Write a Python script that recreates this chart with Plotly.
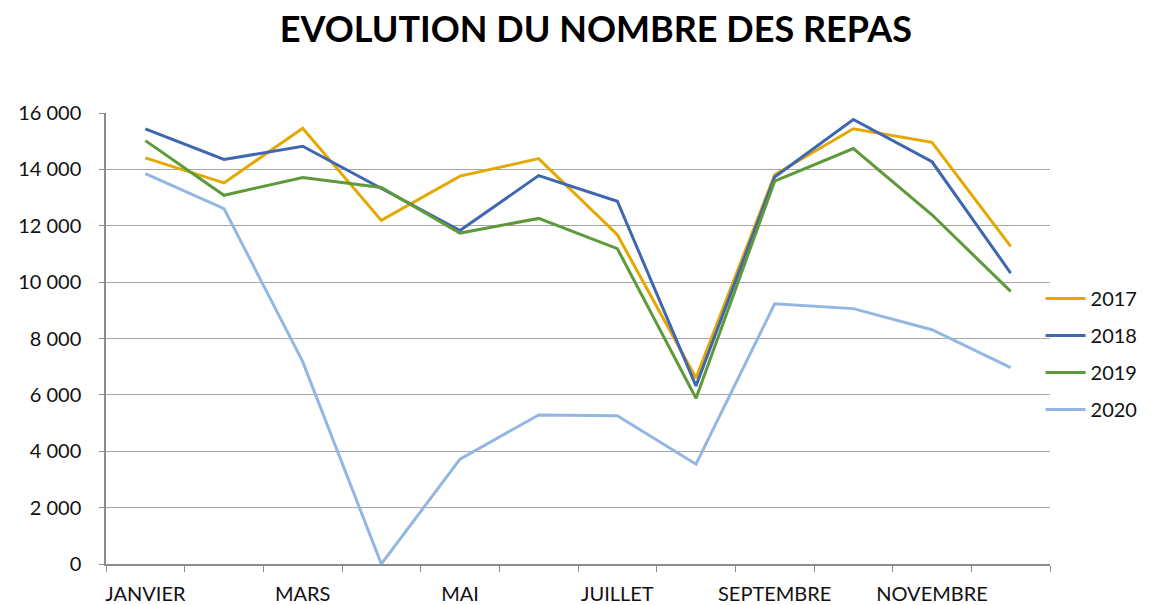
import plotly.graph_objects as go

months = ["JANVIER", "FEVRIER", "MARS", "AVRIL", "MAI", "JUIN", "JUILLET",
          "AOUT", "SEPTEMBRE", "OCTOBRE", "NOVEMBRE", "DECEMBRE"]
y2017 = [14410, 13520, 15460, 12190, 13760, 14380, 11680, 6600, 13810, 15440, 14960, 11270]
y2018 = [15440, 14350, 14820, 13340, 11830, 13780, 12870, 6320, 13730, 15770, 14270, 10320]
y2019 = [15020, 13080, 13710, 13360, 11740, 12260, 11190, 5880, 13580, 14740, 12390, 9670]
y2020 = [13850, 12610, 7180, 0, 3720, 5290, 5260, 3540, 9230, 9060, 8310, 6970]
years = ["2017", "2018", "2019", "2020"]
colors = ["#E5A800", "#3F66B0", "#5E9A3A", "#93B7E2"]
series = [y2017, y2018, y2019, y2020]
tick_labels = [m if i % 2 == 0 else "" for i, m in enumerate(months)]

FONT = "Lato"
fig = go.Figure()
for name, ys, c in zip(years, series, colors):
    fig.add_trace(go.Scatter(x=months, y=ys, name=name, mode="lines",
                             line=dict(color=c, width=3), legendgroup=name))

fig.update_layout(
    width=1155, height=605,
    paper_bgcolor="white", plot_bgcolor="white",
    separators=", ",
    font=dict(family=FONT, size=20, color="#111"),
    title=dict(text="<b>EVOLUTION DU NOMBRE DES REPAS</b>", x=0.509, xanchor="center",
               y=0.964, yanchor="middle", font=dict(family=FONT, size=36, color="#000")),
    margin=dict(l=98, r=113, t=105, b=49),
    showlegend=True,
    legend=dict(x=0.990, xanchor="left", y=0.632, yanchor="top",
                traceorder="grouped", tracegroupgap=8,
                font=dict(family=FONT, size=20, color="#111"),
                bgcolor="rgba(0,0,0,0)", itemwidth=40),
)
fig.update_xaxes(
    type="category", tickvals=months, ticktext=tick_labels, tickangle=0,
    tickson="boundaries", ticks="outside", ticklen=6, tickcolor="#8c8c8c",
    showline=True, linecolor="#8c8c8c", linewidth=1.5,
    showgrid=False, range=[-0.5, 11.5], ticklabelstandoff=11,
    automargin=False,
    tickfont=dict(family=FONT, size=20, color="#111"),
)
fig.update_yaxes(
    range=[0, 16000], dtick=2000, tickformat=",d",
    showgrid=True, gridcolor="#a6a6a6", gridwidth=1,
    showline=True, linecolor="#8c8c8c", linewidth=1.5,
    ticks="outside", ticklen=5, tickcolor="#8c8c8c",
    zeroline=False, ticklabelstandoff=14, automargin=False,
    tickfont=dict(family=FONT, size=20, color="#111"),
)

fig.write_html("out.html")
